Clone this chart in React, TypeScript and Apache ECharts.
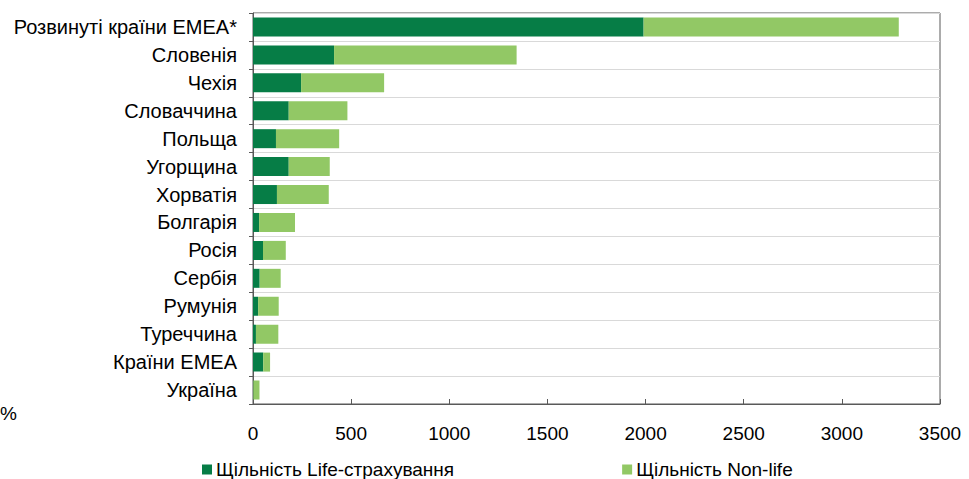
import React, { useEffect, useRef } from "react";
import * as echarts from "echarts";

const categories = [
  "Розвинуті країни ЕМЕА*",
  "Словенія",
  "Чехія",
  "Словаччина",
  "Польща",
  "Угорщина",
  "Хорватія",
  "Болгарія",
  "Росія",
  "Сербія",
  "Румунія",
  "Туреччина",
  "Країни ЕМЕА",
  "Україна",
];
const lifeValues = [1990, 413, 245, 182, 117, 182, 122, 31, 51, 34, 26, 15, 52, 2];
const nonLifeValues = [1300, 930, 423, 299, 322, 209, 264, 183, 116, 107, 105, 114, 35, 31];
const xTicks = { min: 0, max: 3500, interval: 500 };
const seriesNames = ["Щільність Life-страхування", "Щільність Non-life"];

const FONT = "'Liberation Sans', Arial, sans-serif";

export default function App() {
  const ref = useRef<HTMLDivElement>(null);
  useEffect(() => {
    if (!ref.current) return;
    const chart = echarts.init(ref.current, null, { renderer: "svg" });
    chart.setOption({
      animation: false,
      textStyle: { fontFamily: FONT },
      grid: {
        left: 253,
        right: 29,
        top: 13,
        bottom: 75,
        show: true,
        borderColor: "#595959",
        borderWidth: 1,
      },
      legend: {
        left: 197,
        top: 455,
        itemWidth: 10,
        itemHeight: 10,
        itemGap: 168,
        icon: "rect",
        textStyle: { fontSize: 19, color: "#000", fontFamily: FONT, padding: [0, 0, 0, -1] },
        data: seriesNames,
      },
      xAxis: {
        type: "value",
        min: xTicks.min,
        max: xTicks.max,
        interval: xTicks.interval,
        axisLine: { show: true, lineStyle: { color: "#595959", width: 1 } },
        axisTick: { show: true, inside: true, length: 5, lineStyle: { color: "#595959" } },
        splitLine: { show: false },
        axisLabel: {
          fontSize: 19,
          color: "#000",
          margin: 20,
          fontFamily: FONT,
          formatter: (v: number) => String(v),
        },
      },
      yAxis: {
        type: "category",
        inverse: true,
        data: categories,
        axisLine: { show: true, lineStyle: { color: "#595959", width: 1 } },
        axisTick: { show: true, length: 4, lineStyle: { color: "#595959" } },
        splitLine: { show: true, lineStyle: { color: "#d9d9d9", width: 1 } },
        axisLabel: { fontSize: 20, color: "#000", margin: 16, fontFamily: FONT },
      },
      graphic: [
        {
          type: "text",
          left: 0,
          top: 404,
          style: { text: "%", fontSize: 19, fill: "#000", fontFamily: FONT },
        },
      ],
      series: [
        {
          name: seriesNames[0],
          type: "bar",
          stack: "total",
          data: lifeValues,
          barWidth: 19,
          itemStyle: { color: "#067D46" },
        },
        {
          name: seriesNames[1],
          type: "bar",
          stack: "total",
          data: nonLifeValues,
          barWidth: 19,
          itemStyle: { color: "#92C865" },
        },
      ],
    });
    return () => chart.dispose();
  }, []);
  return <div ref={ref} style={{ width: 969, height: 479, position: "absolute", left: 0, top: 0 }} />;
}
